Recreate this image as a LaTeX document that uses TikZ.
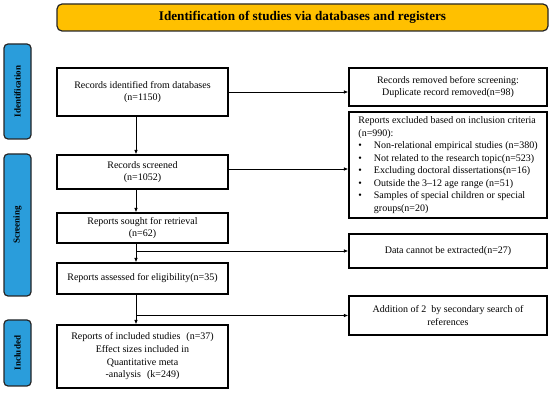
\documentclass[tikz,border=0pt]{standalone}
\usepackage{fontspec}
\setmainfont{Liberation Serif}
\usetikzlibrary{arrows.meta}
\definecolor{hdrfill}{HTML}{FFC000}
\definecolor{barfill}{HTML}{2A9DDB}
\definecolor{edgecol}{HTML}{262626}
\begin{document}
\begin{tikzpicture}[x=1pt,y=-1pt,
  box/.style={draw=black, line width=1.1pt, fill=white, inner sep=2pt,
    font=\fontsize{10}{12.5}\selectfont, align=center, minimum width=171pt},
  rbox/.style={box, minimum width=198pt},
  sidebar/.style={draw=edgecol, line width=1.2pt, fill=barfill, rounded corners=4pt,
    minimum height=27pt, inner sep=0pt, rotate=90,
    font=\bfseries\fontsize{9}{10}\selectfont},
  arr/.style={line width=0.9pt, -{Latex[length=4.5pt,width=3.5pt]}},
  ln/.style={line width=0.9pt},
]
\useasboundingbox (0,0) rectangle (550,393);

% header
\node[draw=edgecol, line width=1.2pt, fill=hdrfill, rounded corners=5pt,
  minimum width=491pt, minimum height=27pt, inner sep=0pt,
  font=\bfseries\fontsize{13.2}{15}\selectfont] (hdr) at (302.5,17.5)
  {Identification of studies via databases and registers};

% side bars
\node[sidebar, minimum width=95pt] (idbar) at (17.5,91.5) {Identification};
\node[sidebar, minimum width=142pt] (scrbar) at (17.5,225) {Screening};
\node[sidebar, minimum width=66pt] (incbar) at (17.5,353) {Included};

% left column
\node[box, minimum height=48pt] (rid) at (142.5,92)
  {Records identified from databases\\(n=1150)};
\node[box, minimum height=34pt] (scr) at (142.5,172)
  {Records screened\\(n=1052)};
\node[box, minimum height=30pt] (sou) at (142.5,228)
  {Reports sought for retrieval\\(n=62)};
\node[box, minimum height=31pt] (ass) at (142.5,278.5)
  {Reports assessed for eligibility(n=35)};
\node[box, minimum height=63pt, font=\fontsize{10}{12.7}\selectfont] (inc) at (142.5,356.5)
  {Reports of included studies\hspace{0.6em}(n=37)\\Effect sizes included in\\Quantitative meta\\-analysis\hspace{0.6em}(k=249)};

% right column
\node[rbox, minimum height=38pt] (rem) at (448,87)
  {Records removed before screening:\\Duplicate record removed(n=98)};
\node[rbox, minimum height=106pt, align=left, inner xsep=4pt] (exc) at (448,165)
  {Reports excluded based on inclusion criteria\\
   (n=990):\\
   \makebox[15.5pt][l]{\textbullet}Non-relational empirical studies (n=380)\\
   \makebox[15.5pt][l]{\textbullet}Not related to the research topic(n=523)\\
   \makebox[15.5pt][l]{\textbullet}Excluding doctoral dissertations(n=16)\\
   \makebox[15.5pt][l]{\textbullet}Outside the 3–12 age range (n=51)\\
   \makebox[15.5pt][l]{\textbullet}Samples of special children or special\\
   \makebox[15.5pt][l]{}groups(n=20)};
\node[rbox, minimum height=34pt] (dat) at (448,251)
  {Data cannot be extracted(n=27)};
\node[rbox, minimum height=39pt] (add) at (448,315.5)
  {Addition of 2\ \ by secondary search of\\references};

% spine of the flow
\coordinate (spine) at (136,0);

% connectors
\draw[arr] (rid.east) -- (rid.east -| rem.west);
\draw[arr] (rid.south -| spine) -- (scr.north -| spine);
\draw[arr] ([yshift=3pt]scr.east) -- ([yshift=3pt]scr.east -| exc.west);
\draw[arr] (scr.south -| spine) -- (sou.north -| spine);
\draw[arr] (sou.south -| spine) -- (ass.north -| spine);
\draw[arr] (dat.west -| spine) -- (dat.west);
\draw[arr] (ass.south -| spine) -- (inc.north -| spine);
\draw[arr] (add.west -| spine) -- (add.west);
\end{tikzpicture}
\end{document}
